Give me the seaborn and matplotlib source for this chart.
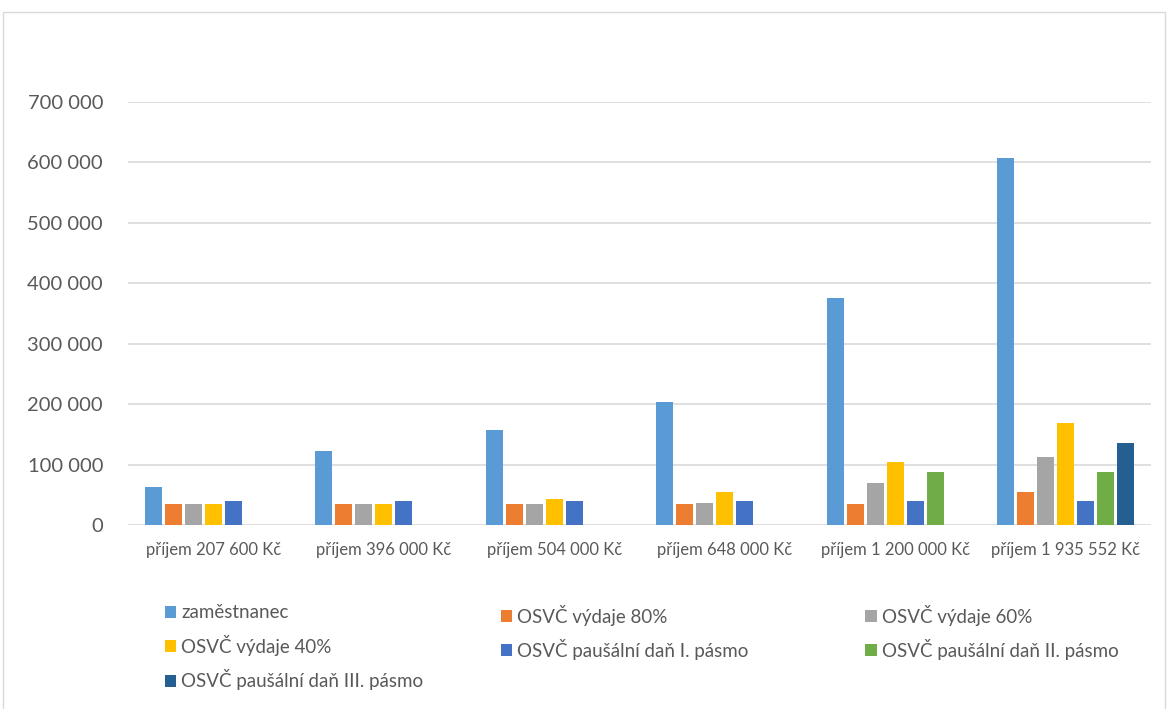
import numpy as np
import pandas as pd
import matplotlib
matplotlib.use("Agg")
import matplotlib.pyplot as plt
from matplotlib.patches import Rectangle
from matplotlib.ticker import FuncFormatter
import seaborn as sns

# --- data ---
categories = ["příjem 207 600 Kč", "příjem 396 000 Kč", "příjem 504 000 Kč",
              "příjem 648 000 Kč", "příjem 1 200 000 Kč", "příjem 1 935 552 Kč"]
series = ["zaměstnanec", "OSVČ výdaje 80%", "OSVČ výdaje 60%", "OSVČ výdaje 40%",
          "OSVČ paušální daň I. pásmo", "OSVČ paušální daň II. pásmo",
          "OSVČ paušální daň III. pásmo"]
zamestnanec = [63500, 123200, 156400, 202800, 375300, 607000]
vydaje_80 = [34300, 34300, 34300, 34300, 34300, 55200]
vydaje_60 = [34300, 34300, 34300, 37000, 69100, 112300]
vydaje_40 = [34300, 34300, 43100, 55200, 104500, 169200]
pausal_1 = [39300, 39300, 39300, 39300, 39300, 39300]
pausal_2 = [np.nan, np.nan, np.nan, np.nan, 88400, 88400]
pausal_3 = [np.nan, np.nan, np.nan, np.nan, np.nan, 136500]
colors = ["#5B9BD5", "#ED7D31", "#A5A5A5", "#FFC000", "#4472C4", "#70AD47", "#255E91"]

values = [zamestnanec, vydaje_80, vydaje_60, vydaje_40, pausal_1, pausal_2, pausal_3]
rows = []
for name, vals in zip(series, values):
    for cat, v in zip(categories, vals):
        if not np.isnan(v):
            rows.append({"kategorie": cat, "řada": name, "hodnota": v})
df = pd.DataFrame(rows)

sns.set_style("white")
plt.rcParams["font.family"] = ["Lato", "DejaVu Sans"]
text_col = "#595959"

fig = plt.figure(figsize=(11.7, 7.09), dpi=100)
ax = fig.add_axes([128 / 1170, 1 - 525 / 709, (1151 - 128) / 1170, (525 - 102) / 709])

sns.barplot(data=df, x="kategorie", y="hodnota", hue="řada", order=categories,
            hue_order=series, palette=colors, saturation=1, errorbar=None,
            width=0.82, gap=0.14, linewidth=0, ax=ax, zorder=3)

ax.set_ylim(0, 700000)
ax.set_yticks(np.arange(0, 700001, 100000))
ax.yaxis.set_major_formatter(FuncFormatter(lambda v, p: f"{int(v):,}".replace(",", " ")))
ax.set_xlim(-0.5, len(categories) - 0.5)
ax.grid(axis="y", color="#D9D9D9", linewidth=1.2, zorder=0)
ax.set_axisbelow(True)
for s in ax.spines.values():
    s.set_visible(False)
ax.set_xlabel("")
ax.set_ylabel("")
ax.tick_params(axis="y", labelsize=14.5, colors=text_col, length=0, pad=18)
ax.tick_params(axis="x", labelsize=12, colors=text_col, length=0, pad=12)

handles, labels = ax.get_legend_handles_labels()
ax.get_legend().remove()

# three legend columns, filled row by row like the original
columns = [[0, 3, 6], [1, 4], [2, 5]]
col_x = [157, 493, 858]
for idx, x in zip(columns, col_x):
    leg = fig.legend([handles[i] for i in idx], [labels[i] for i in idx],
                     loc="upper left", bbox_to_anchor=(x / 1170, 1 - 597 / 709),
                     frameon=False, fontsize=13.5, handlelength=0.6, handleheight=0.6,
                     handletextpad=0.3, labelspacing=0.72, borderaxespad=0)
    for t in leg.get_texts():
        t.set_color(text_col)

# outer chart frame
fig.patches.append(Rectangle((3 / 1170, -0.05), 1162 / 1170, 1.05 - 12 / 709,
                             transform=fig.transFigure, fill=False,
                             edgecolor="#D9D9D9", linewidth=1))

fig.savefig("out.png", dpi=100)
